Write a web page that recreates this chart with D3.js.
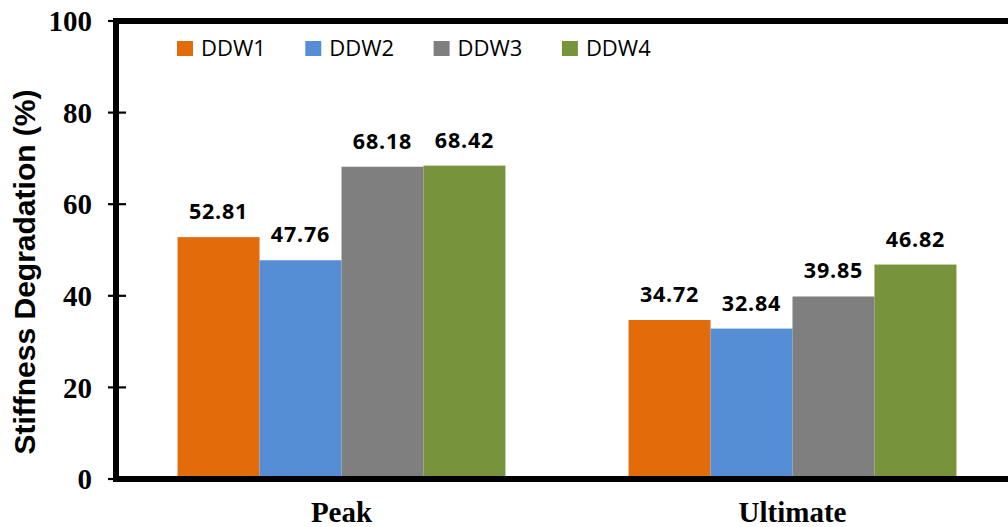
<!DOCTYPE html>
<html>
<head>
<meta charset="utf-8">
<script src="https://cdn.jsdelivr.net/npm/d3@7"></script>
<style>
  html, body { margin: 0; padding: 0; background: #fff; }
  svg { display: block; }
</style>
</head>
<body>
<svg id="chart" width="1008" height="527"></svg>
<script>
// Stiffness degradation per specimen, at peak and ultimate load
const categories = ["Peak", "Ultimate"];
const seriesNames = ["DDW1", "DDW2", "DDW3", "DDW4"];
const seriesColors = ["#E36C0A", "#558ED5", "#7F7F7F", "#77933C"];
const ddw1 = [52.81, 34.72];
const ddw2 = [47.76, 32.84];
const ddw3 = [68.18, 39.85];
const ddw4 = [68.42, 46.82];
const yTicks = [0, 20, 40, 60, 80, 100];

const seriesValues = [ddw1, ddw2, ddw3, ddw4];

const svg = d3.select("#chart");
const plotLeft = 116, plotRight = 1018, plotTop = 21, plotBottom = 479;

const x = d3.scaleBand().domain(categories).range([plotLeft, plotRight])
  .paddingInner(0.273).paddingOuter(0.1365);
const xs = d3.scaleBand().domain(seriesNames).range([0, x.bandwidth()]).padding(0);
const y = d3.scaleLinear().domain([0, 100]).range([plotBottom, plotTop]);

const rows = [];
categories.forEach((c, ci) => {
  seriesNames.forEach((s, si) => {
    rows.push({ cat: c, series: s, color: seriesColors[si], value: seriesValues[si][ci] });
  });
});

// bars
svg.append("g").selectAll("rect").data(rows).join("rect")
  .attr("x", d => x(d.cat) + xs(d.series))
  .attr("y", d => y(d.value))
  .attr("width", xs.bandwidth())
  .attr("height", d => y(0) - y(d.value))
  .attr("fill", d => d.color);

// value labels
svg.append("g").selectAll("text").data(rows).join("text")
  .attr("x", d => x(d.cat) + xs(d.series) + xs.bandwidth() / 2)
  .attr("y", d => y(d.value) - 18)
  .attr("text-anchor", "middle")
  .attr("font-family", "'Open Sans', sans-serif")
  .attr("font-weight", "bold")
  .attr("font-size", 21.5)
  .attr("letter-spacing", 0.8)
  .attr("fill", "#000")
  .text(d => d.value.toFixed(2));

// plot frame (top, left, bottom)
svg.append("path")
  .attr("d", `M${plotRight},${plotTop}H${plotLeft}V${plotBottom}H${plotRight}`)
  .attr("fill", "none")
  .attr("stroke", "#000")
  .attr("stroke-width", 6);

// y axis ticks crossing the axis line
const yAxis = svg.append("g").attr("transform", `translate(${plotLeft},0)`);
yAxis.selectAll("line").data(yTicks).join("line")
  .attr("x1", -8).attr("x2", 10)
  .attr("y1", d => y(d)).attr("y2", d => y(d))
  .attr("stroke", "#000").attr("stroke-width", 2.2);
yAxis.selectAll("text").data(yTicks).join("text")
  .attr("x", -24)
  .attr("y", d => y(d))
  .attr("dy", "0.35em")
  .attr("text-anchor", "end")
  .attr("font-family", "'Liberation Serif', 'Times New Roman', serif")
  .attr("font-weight", "bold")
  .attr("font-size", 29)
  .text(d => d);

// category labels
svg.append("g").selectAll("text").data(categories).join("text")
  .attr("x", d => x(d) + x.bandwidth() / 2)
  .attr("y", 522)
  .attr("text-anchor", "middle")
  .attr("font-family", "'Liberation Serif', 'Times New Roman', serif")
  .attr("font-weight", "bold")
  .attr("font-size", 29)
  .text(d => d);

// y axis title
svg.append("text")
  .attr("transform", "translate(35,272) rotate(-90)")
  .attr("text-anchor", "middle")
  .attr("font-family", "'Liberation Sans', Arial, sans-serif")
  .attr("font-weight", "bold")
  .attr("font-size", 30)
  .text("Stiffness Degradation (%)");

// legend
const legend = svg.append("g").selectAll("g").data(seriesNames).join("g")
  .attr("transform", (d, i) => `translate(${177 + i * 128.3},41)`);
legend.append("rect")
  .attr("width", 16).attr("height", 15)
  .attr("fill", (d, i) => seriesColors[i]);
legend.append("text")
  .attr("x", 24).attr("y", 15)
  .attr("font-family", "'Open Sans', sans-serif")
  .attr("font-size", 22)
  .attr("fill", "#000")
  .text(d => d);
</script>
</body>
</html>
